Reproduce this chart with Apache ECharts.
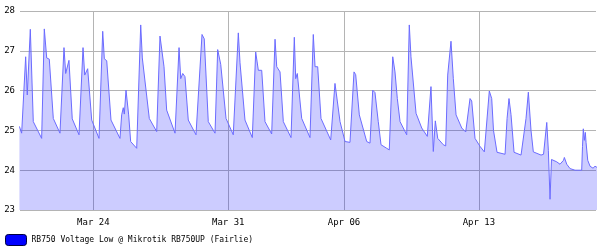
<!DOCTYPE html>
<html><head><meta charset="utf-8">
<script src="https://cdn.jsdelivr.net/npm/echarts@6/dist/echarts.min.js"></script>
<style>html,body{margin:0;padding:0;background:#fff}#c{width:600px;height:250px}</style>
</head><body><div id="c"></div>
<script>
const seriesName = 'RB750 Voltage Low @ Mikrotik RB750UP (Fairlie)';
const startDate = '2025-03-20T00:00:00Z';
// elapsed hours since startDate
const hours = [4.0, 6.8, 11.8, 13.8, 17.6, 21.3, 31.7, 35.0, 38.0, 41.2,
  46.2, 54.5, 59.5, 61.6, 65.7, 69.8, 78.2, 83.2, 85.3, 89.0,
  94.0, 103.1, 107.7, 109.7, 112.7, 118.0, 129.2, 131.3, 133.3, 134.6,
  136.7, 140.0, 142.5, 150.0, 155.0, 157.0, 159.1, 165.7, 174.9, 179.0,
  184.0, 187.3, 197.7, 202.7, 204.8, 207.3, 210.1, 214.2, 223.8, 231.3,
  234.1, 239.1, 247.5, 250.8, 254.6, 256.6, 261.2, 270.2, 276.5, 278.6,
  280.7, 284.8, 293.9, 298.1, 301.4, 305.6, 309.7, 318.0, 322.2, 324.3,
  328.4, 332.5, 342.1, 346.2, 347.9, 349.9, 355.4, 365.7, 369.8, 372.0,
  375.3, 379.4, 391.5, 396.8, 399.0, 403.1, 409.3, 415.5, 420.5, 422.6,
  427.1, 436.3, 440.4, 443.8, 446.6, 450.7, 454.1, 461.2, 464.4, 468.7,
  471.5, 474.4, 477.8, 486.1, 489.3, 491.4, 493.6, 497.7, 504.8, 511.7,
  516.3, 518.0, 519.2, 521.7, 524.7, 531.6, 534.6, 537.1, 541.2, 544.1,
  547.5, 554.6, 559.5, 564.9, 567.0, 571.1, 577.3, 582.7, 588.9, 591.9,
  594.1, 598.5, 608.5, 611.0, 613.4, 615.9, 619.7, 628.4, 634.6, 637.5,
  640.8, 643.7, 653.3, 656.4, 660.4, 662.4, 664.5, 666.3, 672.8, 676.9,
  679.0, 681.3, 682.3, 685.3, 689.4, 695.6, 703.9, 704.9, 705.9, 707.2,
  708.4, 709.3, 711.4, 714.3, 718.0, 720.5, 723.0];
const volts = [25.10, 24.93, 26.85, 25.89, 27.54, 25.22, 24.80, 27.55, 26.82, 26.79,
  25.30, 24.93, 27.08, 26.43, 26.76, 25.29, 24.89, 27.08, 26.39, 26.55,
  25.26, 24.80, 27.49, 26.80, 26.75, 25.26, 24.80, 25.39, 25.57, 25.41,
  26.01, 25.39, 24.72, 24.55, 27.65, 26.82, 26.79, 25.30, 24.97, 27.37,
  26.60, 25.51, 24.93, 27.08, 26.30, 26.43, 26.35, 25.26, 24.89, 27.41,
  27.30, 25.22, 24.93, 27.03, 26.66, 26.64, 25.30, 24.89, 27.45, 26.70,
  26.68, 25.26, 24.82, 26.97, 26.51, 26.51, 25.22, 24.91, 27.29, 26.60,
  26.47, 25.22, 24.82, 27.34, 26.30, 26.43, 25.30, 24.82, 27.41, 26.60,
  26.60, 25.30, 24.76, 26.18, 26.22, 25.22, 24.72, 24.70, 26.47, 26.40,
  25.39, 24.72, 24.68, 26.01, 25.95, 25.22, 24.64, 24.55, 24.51, 26.85,
  26.47, 25.80, 25.22, 24.89, 27.65, 26.85, 26.82, 25.43, 25.06, 24.85,
  26.10, 26.07, 24.47, 25.24, 24.80, 24.64, 24.61, 26.39, 27.24, 26.30,
  25.39, 25.06, 24.96, 25.80, 25.74, 24.80, 24.60, 24.46, 25.99, 25.80,
  25.00, 24.45, 24.40, 25.30, 25.80, 25.40, 24.45, 24.38, 25.30, 25.96,
  25.00, 24.46, 24.38, 24.40, 25.20, 24.50, 23.27, 24.27, 24.21, 24.15,
  24.10, 24.25, 24.32, 24.15, 24.04, 24.00, 24.00, 24.60, 25.04, 24.75,
  24.95, 24.70, 24.25, 24.10, 24.05, 24.10, 24.07];
const tickDates = ['2025-03-24T00:00:00Z', '2025-03-31T00:00:00Z', '2025-04-06T00:00:00Z', '2025-04-13T00:00:00Z'];
const tickLabels = ['Mar 24', 'Mar 31', 'Apr 06', 'Apr 13'];
const viewStartHour = 4.75;
const viewEndHour = 721.7;
const yMin = 23, yMax = 28, yStep = 1;

const HOUR = 3600000;
const t0 = Date.parse(startDate);
const n = Math.min(hours.length, volts.length);
const data = [];
for (let i = 0; i < n; i++) data.push([t0 + hours[i] * HOUR, volts[i]]);
const tickTimes = tickDates.map(d => Date.parse(d));

const FONT = 'DejaVu Sans Mono';
const chart = echarts.init(document.getElementById('c'), null, {renderer: 'canvas'});
chart.setOption({
  animation: false,
  backgroundColor: '#ffffff',
  grid: {left: 20, right: 4, top: 11, bottom: 40, containLabel: false},
  xAxis: {
    type: 'value',
    min: t0 + viewStartHour * HOUR,
    max: t0 + viewEndHour * HOUR,
    axisLine: {show: false},
    axisTick: {show: false, customValues: tickTimes},
    axisLabel: {
      customValues: tickTimes,
      margin: 8,
      fontFamily: FONT, fontSize: 9, color: '#000',
      formatter: function (v) {
        let best = 0, bd = Infinity;
        tickTimes.forEach((t, i) => { const d = Math.abs(t - v); if (d < bd) { bd = d; best = i; } });
        return tickLabels[best];
      }
    },
    splitLine: {show: true, lineStyle: {color: '#b4b4b4', width: 1}}
  },
  yAxis: {
    type: 'value',
    min: yMin, max: yMax, interval: yStep,
    axisLine: {show: false},
    axisTick: {show: false},
    axisLabel: {margin: 5, fontFamily: FONT, fontSize: 9, color: '#000'},
    splitLine: {show: true, lineStyle: {color: '#b4b4b4', width: 1}}
  },
  legend: {
    show: true,
    left: 5, top: 234,
    icon: 'roundRect',
    itemWidth: 21, itemHeight: 11,
    padding: 0,
    textStyle: {fontFamily: FONT, fontSize: 8, color: '#000'},
    data: [{name: seriesName, itemStyle: {color: '#0000ff', borderColor: '#000040', borderWidth: 1}}]
  },
  series: [{
    name: seriesName,
    type: 'line',
    data: data,
    showSymbol: false,
    symbol: 'none',
    color: '#0000ff',
    lineStyle: {color: '#6b6bff', width: 1},
    areaStyle: {color: 'rgba(0,0,255,0.2)', opacity: 1},
    clip: true
  }]
});
</script>
</body></html>
